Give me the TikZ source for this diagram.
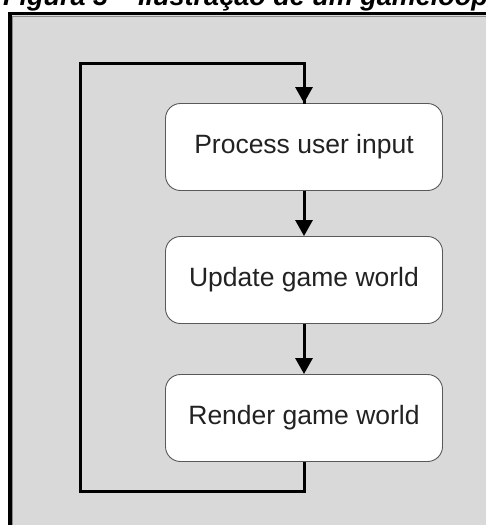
\documentclass[tikz,border=0pt]{standalone}
\usepackage{fontspec}
\setmainfont{Liberation Sans}
\usetikzlibrary{arrows.meta}
\definecolor{panelgrey}{HTML}{D9D9D9}
\definecolor{txtgrey}{HTML}{222222}
\tikzset{
  stepbox/.style={draw=black!65, line width=0.9pt, fill=white, rounded corners=15pt,
    minimum width=277pt, minimum height=87pt, inner sep=0pt,
    font=\fontsize{26.5pt}{30pt}\selectfont, text=txtgrey},
  flow/.style={line width=3pt, -{Triangle[length=16pt,width=17pt]}},
  loopline/.style={line width=3pt}
}
\begin{document}
\begin{tikzpicture}[x=1pt,y=-1pt]
\useasboundingbox (0,0) rectangle (486,525);
\begin{scope}
\clip (0,0) rectangle (486,525);
\fill[white] (0,0) rectangle (486,525);
% caption (cut off at top)
\node[anchor=base west, inner sep=0pt, font=\bfseries\itshape\fontsize{27pt}{30pt}\selectfont] (cap) at (3,5) {Figura 3 – Ilustração de um gameloop};
% panel
\draw[line width=3.5pt, fill=panelgrey] (10,13.5) rectangle (520,560);
\draw[black!45, line width=1pt] (12.5,16) -- (520,16);
\draw[black!45, line width=1pt] (12.5,16) -- (12.5,560);
% boxes
\node[stepbox] (p) at (304,147) {Process user input};
\node[stepbox] (u) at (304,280) {Update game world};
\node[stepbox] (r) at (304,418) {Render game world};
\coordinate (bl) at (80,491);
\coordinate (tl) at (80,63);
\draw[flow] (p.south) -- (u.north);
\draw[flow] (u.south) -- (r.north);
\draw[loopline] (r.south) |- (bl) -- (tl) -| ([yshift=-1pt]p.north);
\draw[flow] (304,80) -- (p.north);
\end{scope}
\end{tikzpicture}
\end{document}
